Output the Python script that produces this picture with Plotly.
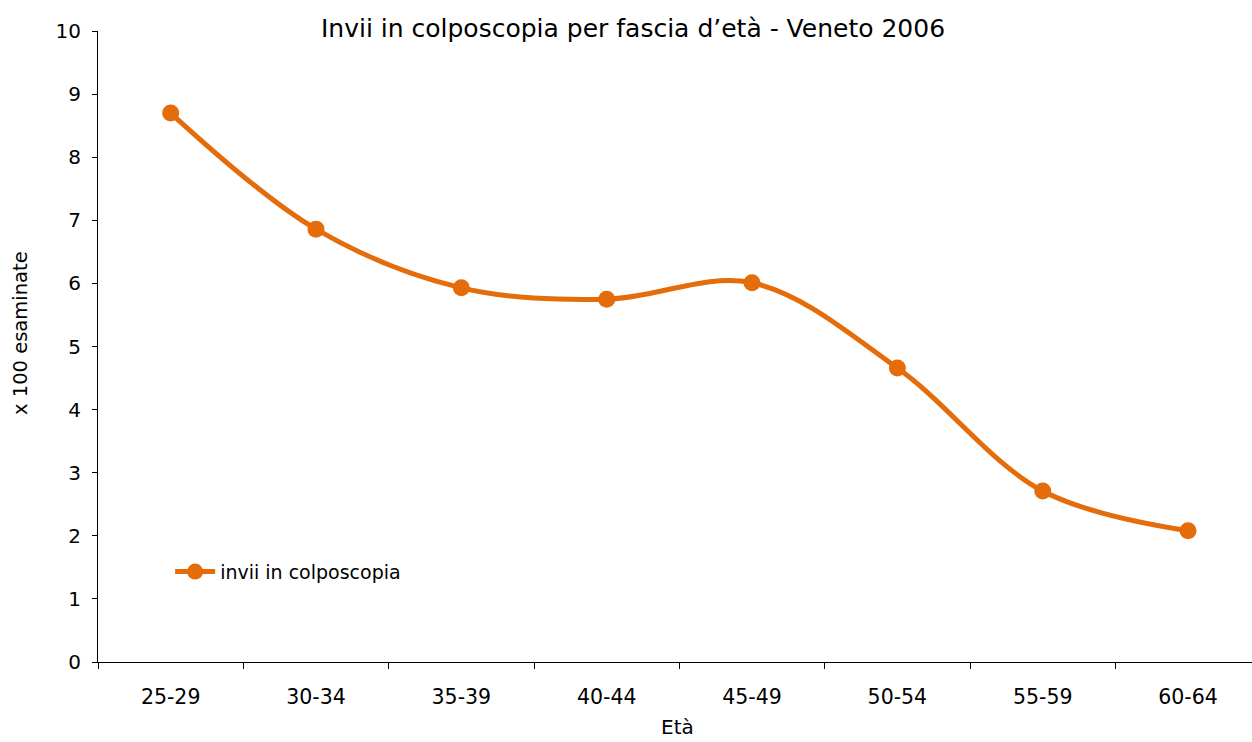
import plotly.graph_objects as go

categories = ["25-29", "30-34", "35-39", "40-44", "45-49", "50-54", "55-59", "60-64"]
invii = [8.70, 6.86, 5.93, 5.75, 6.01, 4.66, 2.71, 2.08]
y_ticks = [0, 1, 2, 3, 4, 5, 6, 7, 8, 9, 10]

orange = "#E46C0A"
font = "DejaVu Sans, Verdana, sans-serif"

W, H = 1252, 742
L, R, T, B = 98, 0, 31, 80
pw, ph = W - L - R, H - T - B

fig = go.Figure()
fig.add_trace(go.Scatter(
    x=categories, y=invii, mode="lines+markers", name="invii in colposcopia",
    line=dict(color=orange, width=5, shape="spline", smoothing=1),
    marker=dict(color=orange, size=17),
))

fig.update_layout(
    width=W, height=H,
    margin=dict(l=L, r=R, t=T, b=B, autoexpand=False),
    paper_bgcolor="white", plot_bgcolor="white",
    font=dict(family=font, size=20, color="#000000"),
    title=dict(text="Invii in colposcopia per fascia d\u2019et\u00e0 - Veneto 2006",
               x=633 / W, xanchor="center", y=1 - 28 / H, yanchor="middle",
               font=dict(family=font, size=25, color="#000000")),
    showlegend=True,
    legend=dict(x=0.0625, y=0.143, xanchor="left", yanchor="middle",
                bgcolor="rgba(0,0,0,0)", font=dict(size=19), itemwidth=40),
    annotations=[
        dict(text="x 100 esaminate", textangle=-90, showarrow=False,
             xref="paper", yref="paper",
             x=(20 - L) / pw, y=(662 - 333) / ph, xanchor="center", yanchor="middle",
             font=dict(size=19.5, color="#000000")),
        dict(text="Et\u00e0", showarrow=False,
             xref="paper", yref="paper",
             x=(677 - L) / pw, y=(662 - 741) / ph, xanchor="center", yanchor="bottom",
             font=dict(size=20, color="#000000")),
    ],
)
fig.update_xaxes(
    type="category", range=[-0.5, 7.44], tickson="boundaries",
    showline=True, linecolor="#000000", linewidth=1,
    ticks="outside", ticklen=6, tickcolor="#000000", automargin=False,
    showgrid=False, zeroline=False, ticklabelstandoff=16,
    tickfont=dict(size=20.5),
)
fig.update_yaxes(
    range=[0, 10], tickvals=y_ticks, automargin=False,
    showline=True, linecolor="#000000", linewidth=1,
    ticks="outside", ticklen=5, tickcolor="#000000",
    showgrid=False, zeroline=False, ticklabelstandoff=7,
    tickfont=dict(size=20),
)

fig.write_html("out.html", config={"displayModeBar": False},
               post_script="document.body.style.margin='0';")
